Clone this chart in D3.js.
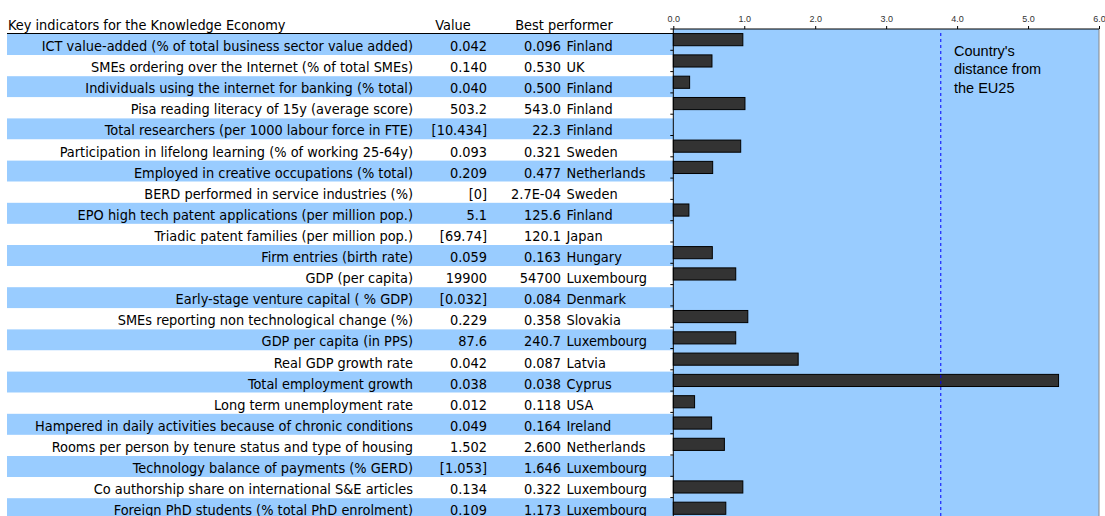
<!DOCTYPE html>
<html>
<head>
<meta charset="utf-8">
<script src="https://cdn.jsdelivr.net/npm/d3@7"></script>
<style>
  html, body { margin: 0; padding: 0; background: #fff; overflow: hidden; }
  svg { display: block; }
</style>
</head>
<body>
<svg id="chart" width="1105" height="516"></svg>
<script>
const indicators = [
  "ICT value-added (% of total business sector value added)",
  "SMEs ordering over the Internet (% of total SMEs)",
  "Individuals using the internet for banking (% total)",
  "Pisa reading literacy of 15y (average score)",
  "Total researchers (per 1000 labour force in FTE)",
  "Participation in lifelong learning (% of working 25-64y)",
  "Employed in creative occupations (% total)",
  "BERD performed in service industries (%)",
  "EPO high tech patent applications (per million pop.)",
  "Triadic patent families (per million pop.)",
  "Firm entries (birth rate)",
  "GDP (per capita)",
  "Early-stage venture capital ( % GDP)",
  "SMEs reporting non technological change (%)",
  "GDP per capita (in PPS)",
  "Real GDP growth rate",
  "Total employment growth",
  "Long term unemployment rate",
  "Hampered in daily activities because of chronic conditions",
  "Rooms per person by tenure status and type of housing",
  "Technology balance of payments (% GERD)",
  "Co authorship share on international S&E articles",
  "Foreign PhD students (% total PhD enrolment)"
];
const countryValues = ["0.042","0.140","0.040","503.2","[10.434]","0.093","0.209","[0]","5.1","[69.74]",
  "0.059","19900","[0.032]","0.229","87.6","0.042","0.038","0.012","0.049","1.502","[1.053]","0.134","0.109"];
const bestValues = ["0.096","0.530","0.500","543.0","22.3","0.321","0.477","2.7E-04","125.6","120.1",
  "0.163","54700","0.084","0.358","240.7","0.087","0.038","0.118","0.164","2.600","1.646","0.322","1.173"];
const bestPerformers = ["Finland","UK","Finland","Finland","Finland","Sweden","Netherlands","Sweden","Finland","Japan",
  "Hungary","Luxembourg","Denmark","Slovakia","Luxembourg","Latvia","Cyprus","USA","Ireland","Netherlands",
  "Luxembourg","Luxembourg","Luxembourg"];
const distances = [0.98,0.545,0.23,1.01,null,0.95,0.555,null,0.22,null,
  0.55,0.88,null,1.05,0.88,1.76,5.43,0.30,0.54,0.72,null,0.98,0.74];
const axisTicks = [0,1,2,3,4,5,6];
const eu25Line = 3.77;
const headers = ["Key indicators for the Knowledge Economy", "Value", "Best performer"];
const noteLines = ["Country's", "distance from", "the EU25"];

const svg = d3.select("#chart");
const W = 1105, H = 516;
const tableFont = "'DejaVu Sans Condensed', 'DejaVu Sans', sans-serif";
const fs = 14.4;
const blue = "#99CCFF";

// table rows
const rowY = d3.scaleBand().domain(d3.range(indicators.length)).range([34, 34 + 21.1 * indicators.length]).padding(0);
// plot
const x = d3.scaleLinear().domain([0, 6]).range([673.3, 1099]);
const plotY = d3.scaleBand().domain(d3.range(indicators.length)).range([29, 29 + 21.3 * indicators.length]).paddingInner(0.43).paddingOuter(0.215);
const plotTop = 29;

// plot background
svg.append("rect").attr("x", x(0)).attr("y", plotTop).attr("width", x(6) - x(0)).attr("height", H - plotTop).attr("fill", blue);
svg.append("line").attr("x1", x(6)).attr("x2", x(6)).attr("y1", plotTop).attr("y2", H).attr("stroke", "#888").attr("stroke-width", 1);

// row stripes
svg.append("g").selectAll("rect").data(indicators).join("rect")
  .attr("x", 7).attr("y", (d, i) => rowY(i)).attr("width", x(0) - 7).attr("height", rowY.bandwidth())
  .attr("fill", (d, i) => i % 2 === 0 ? blue : "#fff");

// header
svg.append("text").attr("x", 8).attr("y", 29.5).attr("font-family", tableFont).attr("font-size", fs).attr("fill", "#000").text(headers[0]);
svg.append("text").attr("x", 453).attr("y", 29.5).attr("text-anchor", "middle").attr("font-family", tableFont).attr("font-size", fs).text(headers[1]);
svg.append("text").attr("x", 564).attr("y", 29.5).attr("text-anchor", "middle").attr("font-family", tableFont).attr("font-size", fs).text(headers[2]);
svg.append("line").attr("x1", 7).attr("x2", x(0)).attr("y1", 33.5).attr("y2", 33.5).attr("stroke", "#000");

// table text
const rows = svg.append("g").attr("font-family", tableFont).attr("font-size", fs).attr("fill", "#000");
const baseY = i => rowY(i) + rowY.bandwidth() / 2 + 6.5;
rows.selectAll(".lbl").data(indicators).join("text").attr("class", "lbl")
  .attr("x", 413).attr("y", (d, i) => baseY(i)).attr("text-anchor", "end").text(d => d);
rows.selectAll(".val").data(countryValues).join("text").attr("class", "val")
  .attr("x", 487).attr("y", (d, i) => baseY(i)).attr("text-anchor", "end").text(d => d);
rows.selectAll(".best").data(bestValues).join("text").attr("class", "best")
  .attr("x", 561).attr("y", (d, i) => baseY(i)).attr("text-anchor", "end").text(d => d);
rows.selectAll(".ctry").data(bestPerformers).join("text").attr("class", "ctry")
  .attr("x", 566.5).attr("y", (d, i) => baseY(i)).text(d => d);

// bars
svg.append("g").selectAll("rect").data(distances.map((v, i) => ({v, i})).filter(d => d.v !== null)).join("rect")
  .attr("x", x(0)).attr("y", d => plotY(d.i)).attr("width", d => x(d.v) - x(0)).attr("height", plotY.bandwidth())
  .attr("fill", "#333333").attr("stroke", "#000").attr("stroke-width", 1);

// EU25 dashed line
svg.append("line").attr("x1", x(eu25Line)).attr("x2", x(eu25Line)).attr("y1", 33).attr("y2", H)
  .attr("stroke", "#0000FF").attr("stroke-width", 1).attr("stroke-dasharray", "3,3");

// note
svg.append("text").attr("font-family", "'Liberation Sans', Arial, sans-serif").attr("font-size", 14.5).attr("fill", "#000")
  .selectAll("tspan").data(noteLines).join("tspan").attr("x", 954).attr("y", (d, i) => 56 + i * 18.3).text(d => d);

// top axis
const xAxis = d3.axisTop(x).tickValues(axisTicks).tickFormat(d3.format(".1f")).tickSize(3).tickPadding(4);
const gx = svg.append("g").attr("transform", `translate(0,${plotTop})`).call(xAxis);
gx.select(".domain").attr("stroke", "#000").attr("d", `M${x(0)},0H${x(6)}`);
gx.selectAll("text").attr("font-family", "'Liberation Sans', Arial, sans-serif").attr("font-size", 9).attr("fill", "#333");

// left axis ticks at category boundaries
const gy = svg.append("g");
gy.append("line").attr("x1", x(0)).attr("x2", x(0)).attr("y1", plotTop).attr("y2", H).attr("stroke", "#000");
gy.selectAll(".yt").data(d3.range(indicators.length + 1)).join("line").attr("class", "yt")
  .attr("x1", x(0) - 3).attr("x2", x(0)).attr("y1", i => plotTop + i * plotY.step()).attr("y2", i => plotTop + i * plotY.step())
  .attr("stroke", "#000");
</script>
</body>
</html>
